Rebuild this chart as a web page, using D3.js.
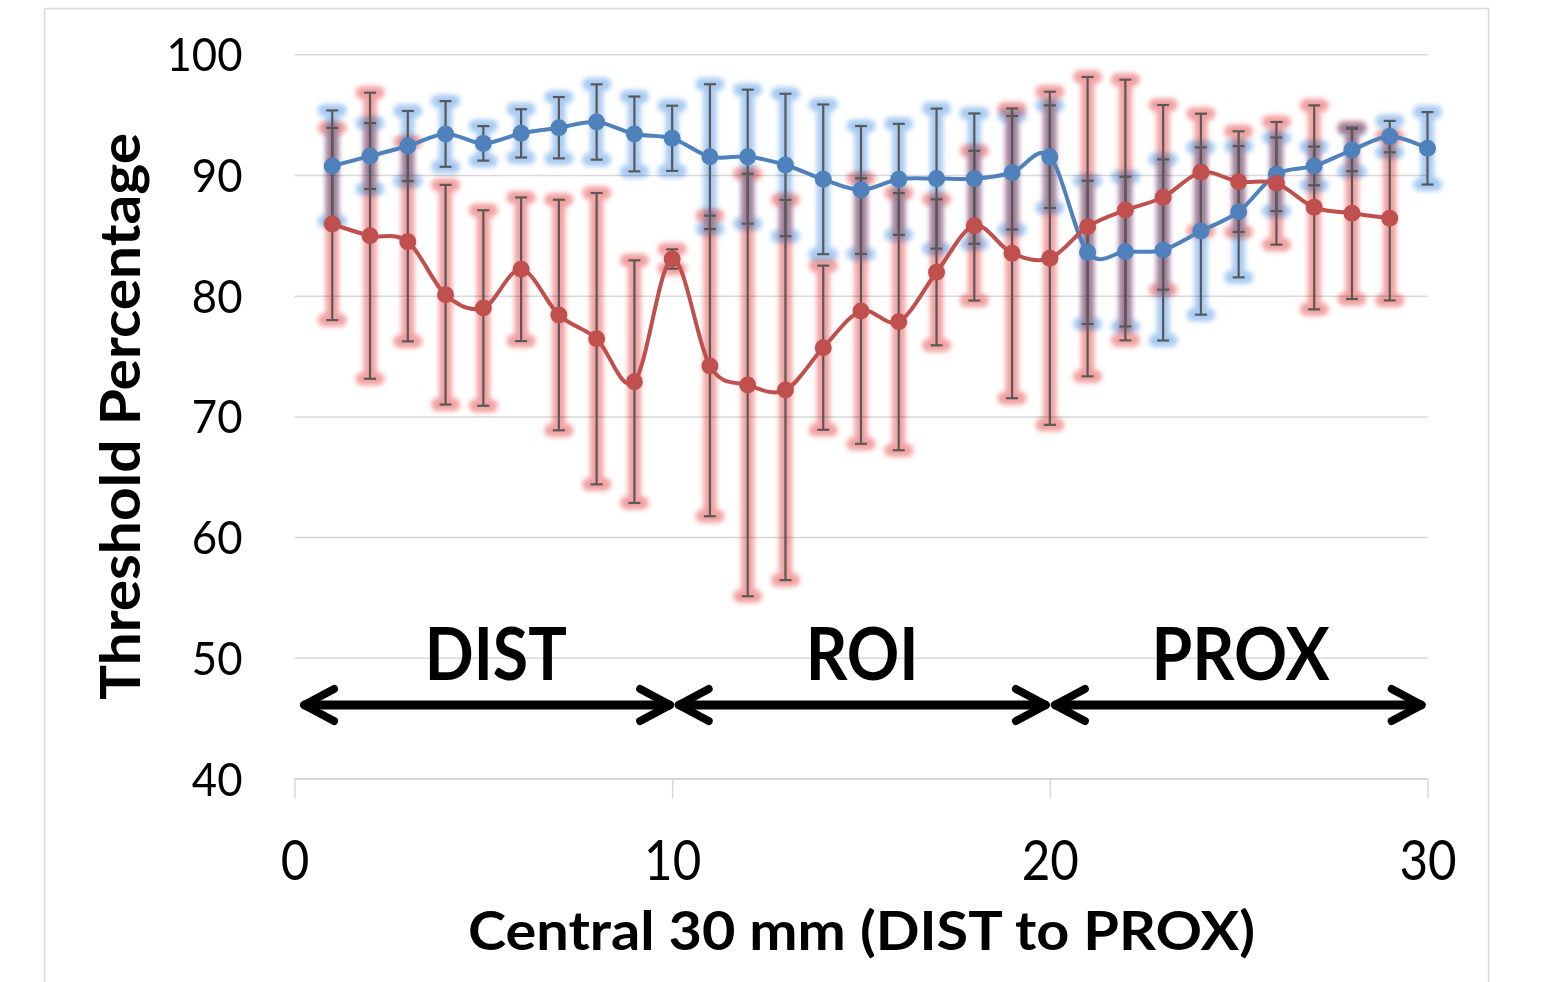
<!DOCTYPE html>
<html>
<head>
<meta charset="utf-8">
<script src="https://cdn.jsdelivr.net/npm/d3@7"></script>
<style>
  html, body { margin: 0; padding: 0; background: #fff; }
</style>
</head>
<body>
<div id="chart"></div>
<script>

// position along the central 30 mm
var positions = d3.range(1, 31);

// series 1 (blue)
var blueMean = [90.75, 91.57, 92.4, 93.4, 92.62, 93.45, 93.92, 94.39, 93.4, 93.04,
  91.52, 91.52, 90.83, 89.64, 88.76, 89.64, 89.7, 89.7, 90.19, 91.52,
  83.59, 83.65, 83.79, 85.36, 86.96, 90.06, 90.75, 92.07, 93.18, 92.21];
var blueErr = [4.6, 2.73, 2.9, 2.72, 1.43, 2.0, 2.54, 3.12, 3.1, 2.7,
  6.0, 5.55, 5.9, 6.2, 5.3, 4.6, 5.8, 5.4, 4.7, 4.25,
  5.93, 6.2, 7.5, 6.93, 5.44, 3.05, 1.6, 1.75, 1.3, 3.0];

// series 2 (red), no value at 30
var redMean = [85.94, 84.97, 84.48, 80.08, 78.98, 82.19, 78.4, 76.44, 72.88, 83.04,
  74.18, 72.6, 72.19, 75.69, 78.73, 77.85, 81.94, 85.8, 83.51, 83.1,
  85.72, 87.1, 88.15, 90.22, 89.45, 89.31, 87.32, 86.83, 86.41];
var redErr = [7.96, 11.85, 8.26, 9.1, 8.1, 5.95, 9.55, 12.07, 10.05, 0.8,
  12.45, 17.5, 15.75, 6.8, 11.0, 10.65, 6.05, 6.2, 12.0, 13.8,
  12.4, 10.8, 7.65, 4.86, 4.17, 5.08, 8.45, 7.1, 6.8];

// axis ticks
var xTicks = [0, 10, 20, 30];
var yTicks = [40, 50, 60, 70, 80, 90, 100];

// region annotations
var regionNames = ['DIST', 'ROI', 'PROX'];
var regionStart = [0.2, 10.12, 20.08];
var regionEnd = [10, 19.95, 29.9];
var regionLabelX = [5.33, 15.03, 25.05];

function renderChart() {

  // Exposed variables
  var attrs = {
    svgWidth: 1550,
    svgHeight: 982,
    plotLeft: 294.5,
    plotRight: 1427.5,
    plotTop: 54.3,
    plotBottom: 778.5,
    defaultFont: 'Lato, "Open Sans", sans-serif',
    textFill: '#000',
    gridColor: '#d9d9d9',
    barColor: '#595959',
    blueColor: '#4f81bd',
    redColor: '#c0504d',
    blueGlow: '#a8cbf2',
    redGlow: '#f2a0a0'
  };

  //#########################  SCALES  ########################
  var scales = {};
  scales.x = d3.scaleLinear().domain([0, 30]).range([attrs.plotLeft, attrs.plotRight]);
  scales.y = d3.scaleLinear().domain([40, 100]).range([attrs.plotBottom, attrs.plotTop]);

  var calc = {};
  calc.plotHeight = attrs.plotBottom - attrs.plotTop;
  calc.plotWidth = attrs.plotRight - attrs.plotLeft;

  var blueData = positions.map(function (p, i) { return { x: p, y: blueMean[i], e: blueErr[i] }; });
  var redData = redMean.map(function (m, i) { return { x: positions[i], y: m, e: redErr[i] }; });

  //Add svg
  var svg = d3.select('#chart').append('svg')
    .attr('width', attrs.svgWidth)
    .attr('height', attrs.svgHeight)
    .attr('font-family', attrs.defaultFont);

  // glow filter
  var defs = svg.append('defs');
  defs.append('filter').attr('id', 'glow')
    .attr('x', '-20%').attr('y', '-20%').attr('width', '140%').attr('height', '140%')
    .append('feGaussianBlur').attr('stdDeviation', 2.8);

  // outer chart frame
  svg.append('rect')
    .attr('x', 44.5).attr('y', 8.5)
    .attr('width', 1444).attr('height', 1000)
    .attr('fill', '#fff')
    .attr('stroke', attrs.gridColor)
    .attr('stroke-width', 1.5);

  //###########################  GRID  ########################
  var grid = svg.append('g');

  grid.append('g')
    .attr('transform', 'translate(' + attrs.plotLeft + ',0)')
    .call(d3.axisLeft(scales.y).tickValues(yTicks).tickSize(-calc.plotWidth).tickFormat(''))
    .call(function (g) { g.select('.domain').remove(); })
    .selectAll('line')
    .attr('stroke', function (d) { return d === 40 ? '#c8c8c8' : attrs.gridColor; })
    .attr('stroke-width', 1.5);

  grid.append('g')
    .attr('transform', 'translate(0,' + attrs.plotBottom + ')')
    .call(d3.axisBottom(scales.x).tickValues(xTicks).tickSizeInner(-calc.plotHeight).tickSizeOuter(0).tickFormat(''))
    .call(function (g) { g.select('.domain').remove(); })
    .selectAll('line')
    .attr('stroke', attrs.gridColor)
    .attr('stroke-width', 1.5)
    .attr('y2', 20);

  //###########################  AXES  ########################
  var xAxis = svg.append('g')
    .attr('transform', 'translate(0,' + attrs.plotBottom + ')')
    .call(d3.axisBottom(scales.x).tickValues(xTicks).tickSize(0))
    .call(function (g) { g.select('.domain').remove(); });
  xAxis.selectAll('text')
    .attr('y', 101.5).attr('dy', null)
    .attr('font-size', 56)
    .attr('font-family', attrs.defaultFont)
    .attr('fill', attrs.textFill);

  var yAxis = svg.append('g')
    .attr('transform', 'translate(' + attrs.plotLeft + ',0)')
    .call(d3.axisLeft(scales.y).tickValues(yTicks).tickSize(0))
    .call(function (g) { g.select('.domain').remove(); });
  yAxis.selectAll('text')
    .attr('x', -52).attr('dy', '0.36em')
    .attr('font-size', 46)
    .attr('font-family', attrs.defaultFont)
    .attr('fill', attrs.textFill);

  squeeze(xAxis.selectAll('text'), 0.88);
  squeeze(yAxis.selectAll('text'), 0.95);

  //###########################  ERROR BARS  ########################
  drawGlow(blueData, attrs.blueGlow);
  drawGlow(redData, attrs.redGlow);
  drawBars(blueData);
  drawBars(redData);

  //###########################  SERIES  ########################
  drawSeries(blueData, attrs.blueColor);
  drawSeries(redData, attrs.redColor);

  //###########################  REGIONS  ########################
  var regions = svg.append('g');
  var arrowY = 705;
  regionNames.forEach(function (name, i) {
    var x0 = scales.x(regionStart[i]);
    var x1 = scales.x(regionEnd[i]);
    var a = regions.append('g')
      .attr('fill', 'none')
      .attr('stroke', '#000')
      .attr('stroke-linecap', 'round')
      .attr('stroke-linejoin', 'round');
    a.append('line')
      .attr('x1', x0 + 3).attr('x2', x1 - 3)
      .attr('y1', arrowY).attr('y2', arrowY)
      .attr('stroke-width', 9);
    a.append('polyline')
      .attr('points', [[x0 + 32, arrowY - 16], [x0 + 2, arrowY], [x0 + 32, arrowY + 16]].join(' '))
      .attr('stroke-width', 8);
    a.append('polyline')
      .attr('points', [[x1 - 32, arrowY - 16], [x1 - 2, arrowY], [x1 - 32, arrowY + 16]].join(' '))
      .attr('stroke-width', 8);
  });

  var labelWidths = { DIST: 142, ROI: 113, PROX: 178 };
  regions.selectAll('text.region-label')
    .data(regionNames)
    .enter().append('text')
    .attr('class', 'region-label')
    .attr('x', function (d, i) { return scales.x(regionLabelX[i]); })
    .attr('y', 680)
    .attr('text-anchor', 'middle')
    .attr('font-size', 72)
    .attr('font-weight', 'bold')
    .attr('fill', attrs.textFill)
    .attr('textLength', function (d) { return labelWidths[d]; })
    .attr('lengthAdjust', 'spacingAndGlyphs')
    .text(function (d) { return d; });

  //###########################  TITLES  ########################
  svg.append('text')
    .attr('x', 861.5).attr('y', 950)
    .attr('text-anchor', 'middle')
    .attr('font-size', 54)
    .attr('font-weight', 'bold')
    .attr('fill', attrs.textFill)
    .attr('textLength', 787)
    .attr('lengthAdjust', 'spacingAndGlyphs')
    .text('Central 30 mm (DIST to PROX)');

  svg.append('text')
    .attr('transform', 'translate(140,416.5) rotate(-90)')
    .attr('text-anchor', 'middle')
    .attr('font-size', 56)
    .attr('font-weight', 'bold')
    .attr('fill', attrs.textFill)
    .attr('textLength', 567)
    .attr('lengthAdjust', 'spacingAndGlyphs')
    .text('Threshold Percentage');

  //################### FUNCTIONS ####################

  // blurred halo round each error bar, blended like overlapping glows
  function drawGlow(data, color) {
    var g = svg.append('g')
      .style('mix-blend-mode', 'multiply')
      .append('g')
      .attr('filter', 'url(#glow)')
      .attr('stroke', color)
      .attr('stroke-linecap', 'round');
    g.selectAll('line.v').data(data).enter().append('line')
      .attr('class', 'v')
      .attr('x1', function (d) { return scales.x(d.x); })
      .attr('x2', function (d) { return scales.x(d.x); })
      .attr('y1', function (d) { return scales.y(d.y + d.e); })
      .attr('y2', function (d) { return scales.y(d.y - d.e); })
      .attr('stroke-width', 13);
    ['top', 'bottom'].forEach(function (side) {
      g.selectAll('line.' + side).data(data).enter().append('line')
        .attr('class', side)
        .attr('x1', function (d) { return scales.x(d.x) - 8; })
        .attr('x2', function (d) { return scales.x(d.x) + 8; })
        .attr('y1', function (d) { return scales.y(side === 'top' ? d.y + d.e : d.y - d.e); })
        .attr('y2', function (d) { return scales.y(side === 'top' ? d.y + d.e : d.y - d.e); })
        .attr('stroke-width', 13);
    });
  }

  function drawBars(data) {
    var g = svg.append('g')
      .attr('stroke', attrs.barColor)
      .attr('stroke-width', 2.2);
    g.selectAll('line.v').data(data).enter().append('line')
      .attr('class', 'v')
      .attr('x1', function (d) { return scales.x(d.x); })
      .attr('x2', function (d) { return scales.x(d.x); })
      .attr('y1', function (d) { return scales.y(d.y + d.e); })
      .attr('y2', function (d) { return scales.y(d.y - d.e); });
    ['top', 'bottom'].forEach(function (side) {
      g.selectAll('line.' + side).data(data).enter().append('line')
        .attr('class', side)
        .attr('x1', function (d) { return scales.x(d.x) - 6; })
        .attr('x2', function (d) { return scales.x(d.x) + 6; })
        .attr('y1', function (d) { return scales.y(side === 'top' ? d.y + d.e : d.y - d.e); })
        .attr('y2', function (d) { return scales.y(side === 'top' ? d.y + d.e : d.y - d.e); });
    });
  }

  function drawSeries(data, color) {
    var line = d3.line()
      .x(function (d) { return scales.x(d.x); })
      .y(function (d) { return scales.y(d.y); })
      .curve(d3.curveCardinal.tension(0));
    var g = svg.append('g');
    g.append('path')
      .datum(data)
      .attr('d', line)
      .attr('fill', 'none')
      .attr('stroke', color)
      .attr('stroke-width', 4);
    g.selectAll('circle').data(data).enter().append('circle')
      .attr('cx', function (d) { return scales.x(d.x); })
      .attr('cy', function (d) { return scales.y(d.y); })
      .attr('r', 8.5)
      .attr('fill', color);
  }

  // narrow the wide fallback font towards the original's proportions
  function squeeze(sel, k) {
    sel.each(function () {
      var w = this.getComputedTextLength();
      d3.select(this)
        .attr('textLength', w * k)
        .attr('lengthAdjust', 'spacingAndGlyphs');
    });
  }
}

renderChart();
</script>
</body>
</html>
